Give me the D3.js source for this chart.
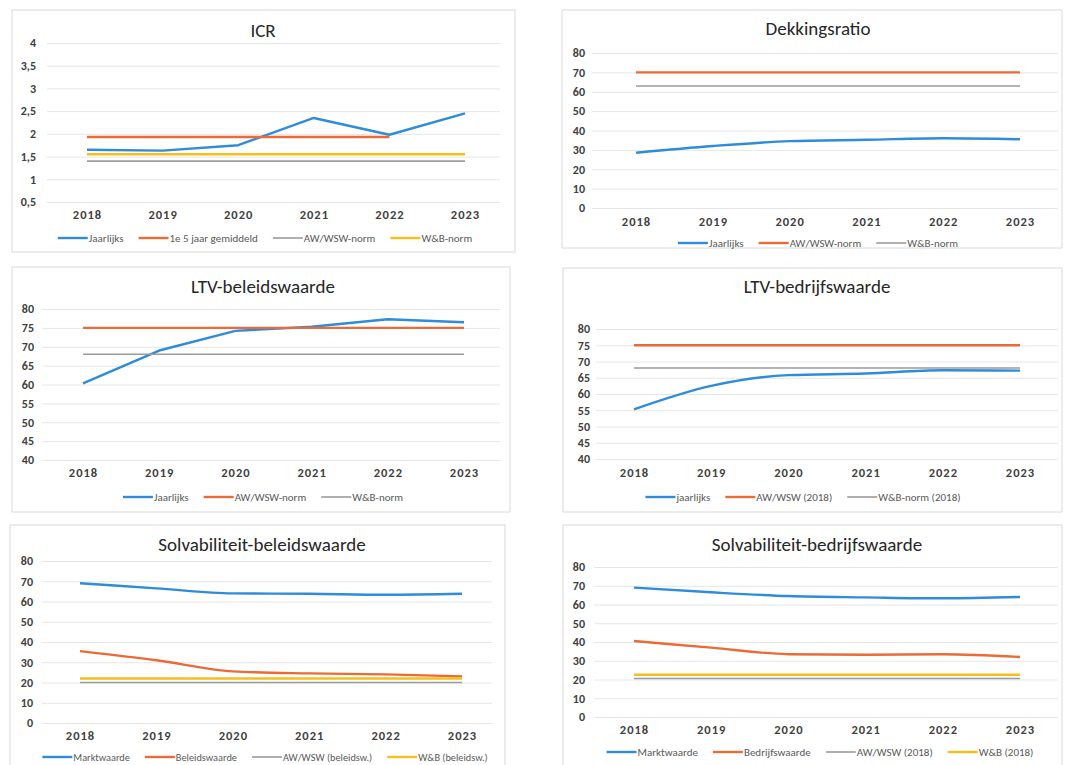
<!DOCTYPE html>
<html>
<head>
<meta charset="utf-8">
<script src="https://cdn.jsdelivr.net/npm/d3@7"></script>
<style>
  html, body { margin: 0; padding: 0; background: #ffffff; }
  svg { display: block; }
  text { font-family: Carlito, Lato, "Open Sans", sans-serif; }
</style>
</head>
<body>
<svg id="chart" width="1076" height="765"></svg>
<script>
// ---------------- DATA ----------------
const years = ["2018", "2019", "2020", "2021", "2022", "2023"];

// ICR
const icrTitle = "ICR";
const icrTicks = [0.5, 1, 1.5, 2, 2.5, 3, 3.5, 4];
const icrJaarlijks = [1.65, 1.63, 1.75, 2.35, 1.98, 2.45];
const icrGemiddeld = [1.93, 1.93, 1.93, 1.93, 1.93, null];
const icrAwWsw = [1.4, 1.4, 1.4, 1.4, 1.4, 1.4];
const icrWB = [1.55, 1.55, 1.55, 1.55, 1.55, 1.55];
const icrLegend = ["Jaarlijks", "1e 5 jaar gemiddeld", "AW/WSW-norm", "W&B-norm"];

// Dekkingsratio
const dekTitle = "Dekkingsratio";
const dekTicks = [0, 10, 20, 30, 40, 50, 60, 70, 80];
const dekJaarlijks = [28.5, 32, 34.5, 35.2, 36, 35.5];
const dekAwWsw = [70, 70, 70, 70, 70, 70];
const dekWB = [63, 63, 63, 63, 63, 63];
const dekLegend = ["Jaarlijks", "AW/WSW-norm", "W&B-norm"];

// LTV-beleidswaarde
const ltvbTitle = "LTV-beleidswaarde";
const ltvTicks = [40, 45, 50, 55, 60, 65, 70, 75, 80];
const ltvbJaarlijks = [60.3, 69, 74.2, 75.3, 77.3, 76.5];
const ltvbAwWsw = [75, 75, 75, 75, 75, 75];
const ltvbWB = [68, 68, 68, 68, 68, 68];
const ltvbLegend = ["Jaarlijks", "AW/WSW-norm", "W&B-norm"];

// LTV-bedrijfswaarde
const ltvdTitle = "LTV-bedrijfswaarde";
const ltvdJaarlijks = [55.3, 62.5, 65.8, 66.3, 67.3, 67.2];
const ltvdAwWsw = [75, 75, 75, 75, 75, 75];
const ltvdWB = [68, 68, 68, 68, 68, 68];
const ltvdLegend = ["jaarlijks", "AW/WSW (2018)", "W&B-norm (2018)"];

// Solvabiliteit-beleidswaarde
const solbTitle = "Solvabiliteit-beleidswaarde";
const solTicks = [0, 10, 20, 30, 40, 50, 60, 70, 80];
const solbMarkt = [69, 66.5, 64, 63.8, 63.3, 63.8];
const solbBeleid = [35.5, 31, 25.5, 24.5, 24, 23];
const solbAwWsw = [20, 20, 20, 20, 20, 20];
const solbWB = [22, 22, 22, 22, 22, 22];
const solbLegend = ["Marktwaarde", "Beleidswaarde", "AW/WSW (beleidsw.)", "W&B (beleidsw.)"];

// Solvabiliteit-bedrijfswaarde
const soldTitle = "Solvabiliteit-bedrijfswaarde";
const soldMarkt = [69, 66.5, 64.5, 63.8, 63.3, 64];
const soldBedrijf = [40.5, 37, 33.5, 33.2, 33.5, 32];
const soldAwWsw = [20.5, 20.5, 20.5, 20.5, 20.5, 20.5];
const soldWB = [22.5, 22.5, 22.5, 22.5, 22.5, 22.5];
const soldLegend = ["Marktwaarde", "Bedrijfswaarde", "AW/WSW (2018)", "W&B (2018)"];

// ---------------- STYLE ----------------
const C = { blue: "#2f8cd8", orange: "#eb6a36", gray: "#9b9b9b", yellow: "#f5bf1c" };
const W = { blue: 2.4, orange: 2.4, gray: 1.6, yellow: 2.4 };

const svg = d3.select("#chart");
const commaFmt = d => String(d).replace(".", ",");

function drawPanel(cfg) {
  const g = svg.append("g");
  g.append("rect")
    .attr("x", cfg.box[0]).attr("y", cfg.box[1])
    .attr("width", cfg.box[2]).attr("height", cfg.box[3])
    .attr("fill", "#fff").attr("stroke", "#d9d9d9").attr("stroke-width", 1);

  const x = d3.scalePoint().domain(years).range(cfg.xRange);
  const y = d3.scaleLinear().domain([cfg.ticks[0], cfg.ticks[cfg.ticks.length - 1]]).range(cfg.yRange);

  // gridlines
  const grid = d3.axisLeft(y).tickValues(cfg.ticks).tickSize(-(cfg.gridX[1] - cfg.gridX[0])).tickFormat("");
  const gg = g.append("g").attr("transform", `translate(${cfg.gridX[0]},0)`).call(grid);
  gg.select(".domain").remove();
  gg.selectAll("line").attr("stroke", "#e6e6e6").attr("stroke-width", 1);

  // y axis labels
  const ya = d3.axisLeft(y).tickValues(cfg.ticks).tickSize(0).tickPadding(0).tickFormat(cfg.fmt || (d => d));
  const yg = g.append("g").attr("transform", `translate(${cfg.yLabelX},0)`).call(ya);
  yg.select(".domain").remove();
  yg.selectAll("text").attr("fill", "#404040").attr("font-size", 12).attr("font-weight", 600)
    .style("font-family", "Carlito, Lato, sans-serif");

  // x axis labels
  const xa = d3.axisBottom(x).tickSize(0).tickPadding(0);
  const xg = g.append("g").attr("transform", `translate(0,${cfg.xLabelY})`).call(xa);
  xg.select(".domain").remove();
  xg.selectAll("text").attr("fill", "#404040").attr("font-size", 12.5).attr("font-weight", 700)
    .attr("dy", "0.35em").attr("letter-spacing", 1)
    .style("font-family", "Carlito, Lato, sans-serif");

  // lines
  cfg.series.forEach(s => {
    const pts = years.map((yr, i) => ({ yr, v: s.values[i] }));
    const line = d3.line()
      .defined(d => d.v != null)
      .x(d => x(d.yr)).y(d => y(d.v))
      .curve(cfg.curve || d3.curveLinear);
    g.append("path").datum(pts)
      .attr("d", line).attr("fill", "none")
      .attr("stroke", C[s.color]).attr("stroke-width", W[s.color])
      .attr("stroke-linejoin", "round").attr("stroke-linecap", "butt");
  });

  // title
  g.append("text")
    .attr("x", cfg.titleX).attr("y", cfg.titleY)
    .attr("text-anchor", "middle").attr("font-size", 19)
    .attr("fill", "#262626").attr("font-weight", 500)
    .text(cfg.title);

  // legend (centered)
  const lg = g.append("g");
  const swatch = 30, gapAfterSwatch = 1, gapBetween = 15;
  const nodes = [];
  cfg.series.forEach(s => {
    const it = lg.append("g");
    it.append("line").attr("x1", 0).attr("x2", swatch).attr("y1", 0).attr("y2", 0)
      .attr("stroke", C[s.color]).attr("stroke-width", s.color === "gray" ? 1.6 : 2.4);
    const t = it.append("text").attr("x", swatch + gapAfterSwatch).attr("y", 0).attr("dy", "0.35em")
      .attr("font-size", cfg.legendFont || 11).attr("fill", "#595959").text(s.name);
    const w = swatch + gapAfterSwatch + t.node().getComputedTextLength();
    nodes.push({ it, w });
  });
  const total = d3.sum(nodes, n => n.w) + gapBetween * (nodes.length - 1);
  let cx = cfg.legendX - total / 2;
  nodes.forEach(n => {
    n.it.attr("transform", `translate(${cx},${cfg.legendY})`);
    cx += n.w + gapBetween;
  });
}

drawPanel({
  title: icrTitle, box: [12, 10, 503, 242], titleX: 263, titleY: 37,
  ticks: icrTicks, fmt: commaFmt, xRange: [87, 465], yRange: [202, 43],
  gridX: [47, 500], yLabelX: 36, xLabelY: 215, legendX: 265, legendY: 238,
  series: [
    { name: icrLegend[0], values: icrJaarlijks, color: "blue" },
    { name: icrLegend[1], values: icrGemiddeld, color: "orange" },
    { name: icrLegend[2], values: icrAwWsw, color: "gray" },
    { name: icrLegend[3], values: icrWB, color: "yellow" }
  ]
});

drawPanel({
  title: dekTitle, box: [562, 10, 500, 238], titleX: 818, titleY: 35,
  ticks: dekTicks, xRange: [636, 1020], yRange: [208, 53],
  gridX: [592, 1058], yLabelX: 585, xLabelY: 222, legendX: 818, legendY: 243,
  curve: d3.curveMonotoneX,
  series: [
    { name: dekLegend[0], values: dekJaarlijks, color: "blue" },
    { name: dekLegend[1], values: dekAwWsw, color: "orange" },
    { name: dekLegend[2], values: dekWB, color: "gray" }
  ]
});

drawPanel({
  title: ltvbTitle, box: [12, 267, 498, 245], titleX: 263, titleY: 293,
  ticks: ltvTicks, xRange: [83, 464], yRange: [460, 309],
  gridX: [42, 500], yLabelX: 34, xLabelY: 473, legendX: 263, legendY: 497,
  series: [
    { name: ltvbLegend[0], values: ltvbJaarlijks, color: "blue" },
    { name: ltvbLegend[1], values: ltvbAwWsw, color: "orange" },
    { name: ltvbLegend[2], values: ltvbWB, color: "gray" }
  ]
});

drawPanel({
  title: ltvdTitle, box: [563, 268, 499, 244], titleX: 817, titleY: 293,
  ticks: ltvTicks, xRange: [634, 1020], yRange: [459, 329],
  gridX: [596, 1058], yLabelX: 590, xLabelY: 473, legendX: 803, legendY: 497,
  curve: d3.curveMonotoneX,
  series: [
    { name: ltvdLegend[0], values: ltvdJaarlijks, color: "blue" },
    { name: ltvdLegend[1], values: ltvdAwWsw, color: "orange" },
    { name: ltvdLegend[2], values: ltvdWB, color: "gray" }
  ]
});

drawPanel({
  title: solbTitle, box: [10, 525, 495, 250], titleX: 262, titleY: 551,
  ticks: solTicks, xRange: [80, 462], yRange: [723, 561],
  gridX: [42, 492], yLabelX: 33, xLabelY: 736, legendX: 265, legendY: 757,
  legendFont: 10.3,
  curve: d3.curveMonotoneX,
  series: [
    { name: solbLegend[0], values: solbMarkt, color: "blue" },
    { name: solbLegend[1], values: solbBeleid, color: "orange" },
    { name: solbLegend[2], values: solbAwWsw, color: "gray" },
    { name: solbLegend[3], values: solbWB, color: "yellow" }
  ]
});

drawPanel({
  title: soldTitle, box: [563, 525, 499, 250], titleX: 817, titleY: 551,
  ticks: solTicks, xRange: [634, 1020], yRange: [717, 567],
  gridX: [594, 1058], yLabelX: 585, xLabelY: 730, legendX: 820, legendY: 752,
  curve: d3.curveMonotoneX,
  series: [
    { name: soldLegend[0], values: soldMarkt, color: "blue" },
    { name: soldLegend[1], values: soldBedrijf, color: "orange" },
    { name: soldLegend[2], values: soldAwWsw, color: "gray" },
    { name: soldLegend[3], values: soldWB, color: "yellow" }
  ]
});
</script>
</body>
</html>
